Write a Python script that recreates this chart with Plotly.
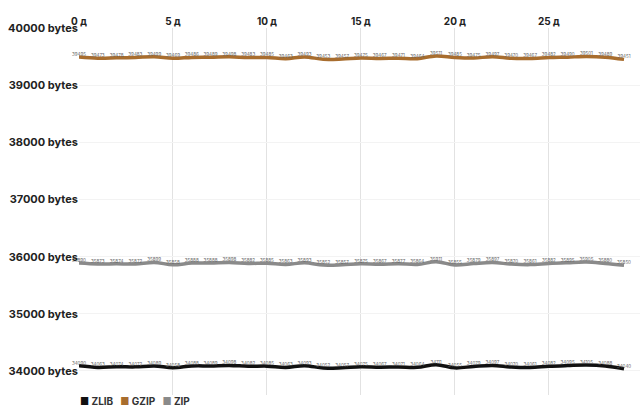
import plotly.graph_objects as go

days = list(range(30))
zlib = [34090, 34063, 34074, 34072, 34089, 34058, 34088, 34089, 34098, 34082,
        34085, 34063, 34093, 34052, 34057, 34075, 34067, 34071, 34064, 34111,
        34055, 34079, 34097, 34070, 34061, 34082, 34095, 34105, 34088, 34040]
gzip = [39495, 39473, 39478, 39483, 39499, 39469, 39486, 39489, 39498, 39483,
        39485, 39463, 39493, 39453, 39457, 39475, 39467, 39471, 39464, 39511,
        39485, 39475, 39497, 39470, 39467, 39482, 39490, 39501, 39489, 39451]
zip_ = [35890, 35873, 35874, 35872, 35899, 35858, 35888, 35888, 35898, 35882,
        35885, 35863, 35893, 35852, 35857, 35875, 35867, 35877, 35864, 35911,
        35855, 35879, 35897, 35870, 35861, 35882, 35895, 35905, 35880, 35850]

series = [("ZLIB", zlib, "#111111"), ("GZIP", gzip, "#a86d2e"), ("ZIP", zip_, "#8a8a8a")]
xticks = [0, 5, 10, 15, 20, 25]
xtick_labels = [f"{d} д" for d in xticks]
yticks = [34000, 35000, 36000, 37000, 38000, 39000, 40000]
ytick_labels = [f"{v} bytes" for v in yticks]

fig = go.Figure()
for name, vals, col in series:
    fig.add_trace(go.Scatter(
        x=days, y=vals, mode="lines+text", name=name,
        line=dict(color=col, width=3.5, shape="spline", smoothing=1.0),
        text=[str(v) for v in vals], textposition="top center",
        textfont=dict(size=4.5, color="#666666", family="Inter"),
        showlegend=False, cliponaxis=False, hoverinfo="skip",
    ))

legend_text = "&nbsp;&nbsp;&nbsp;".join(
    f"<span style='color:{col}'>■</span> {name}" for name, _, col in series
)
fig.add_annotation(
    xref="paper", yref="paper", x=0.0, y=-0.017, xanchor="left", yanchor="middle",
    text=legend_text, showarrow=False, borderpad=0,
    font=dict(size=10, color="#333333", family="Inter", weight="bold"),
)

fig.update_layout(
    width=640, height=409,
    margin=dict(l=79, r=0, t=28, b=14),
    plot_bgcolor="white", paper_bgcolor="white",
    font=dict(family="Inter", color="#333333"),
    showlegend=False,
    xaxis=dict(side="top", range=[0, 29.85], tickvals=xticks, ticktext=xtick_labels,
               showgrid=True, gridcolor="#e2e2e2", gridwidth=1, zeroline=False,
               tickfont=dict(size=10, color="#222222", family="Inter", weight="bold"),
               ticks="", showline=False, automargin=False),
    yaxis=dict(range=[33580, 40000], tickvals=yticks, ticktext=ytick_labels,
               showgrid=True, gridcolor="#f3f3f3", gridwidth=1, zeroline=False,
               tickfont=dict(size=11, color="#222222", family="Inter", weight="bold"),
               ticks="", showline=False, automargin=False, ticklabelstandoff=0),
)

fig.write_html("out.html", post_script="document.body.style.margin='0';",
               config={"displayModeBar": False})
